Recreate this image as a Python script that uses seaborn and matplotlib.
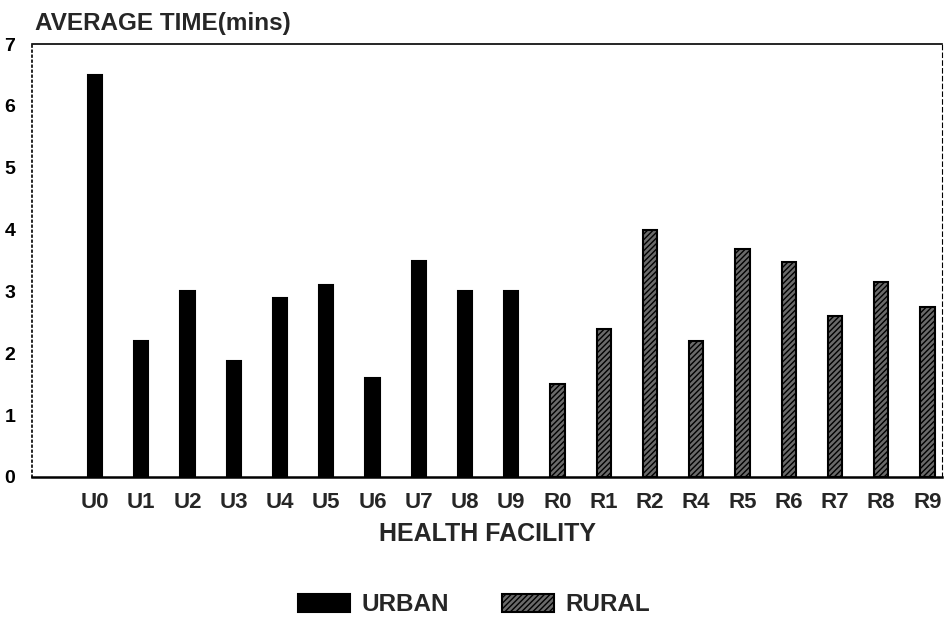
# Average consultation time per health facility, urban vs rural
import pandas as pd
import matplotlib
matplotlib.use('Agg')
import matplotlib.pyplot as plt
import seaborn as sns

# data
urban_facilities = ['U0', 'U1', 'U2', 'U3', 'U4', 'U5', 'U6', 'U7', 'U8', 'U9']
urban_times = [6.5, 2.2, 3.0, 1.87, 2.9, 3.1, 1.6, 3.5, 3.0, 3.0]
rural_facilities = ['R0', 'R1', 'R2', 'R4', 'R5', 'R6', 'R7', 'R8', 'R9']
rural_times = [1.5, 2.4, 4.0, 2.2, 3.68, 3.47, 2.6, 3.16, 2.75]
y_ticks = [0, 1, 2, 3, 4, 5, 6, 7]

df = pd.DataFrame({
    'facility': urban_facilities + rural_facilities,
    'time': urban_times + rural_times,
    'area': ['URBAN'] * len(urban_facilities) + ['RURAL'] * len(rural_facilities),
})

sns.set_style('white')
plt.rcParams['font.family'] = ['Liberation Sans', 'DejaVu Sans']
plt.rcParams['font.weight'] = 'bold'
plt.rcParams['hatch.linewidth'] = 1.0

fig = plt.figure(figsize=(9.46, 6.3), dpi=100)
ax = fig.add_axes([0.034, 0.243, 0.962, 0.687])

sns.barplot(data=df, x='facility', y='time', hue='area',
            palette={'URBAN': 'black', 'RURAL': '#6a6a6a'},
            dodge=False, width=0.31, edgecolor='black', linewidth=1.5,
            legend=False, ax=ax)

# rural bars get the dense diagonal hatch
for bar in ax.containers[1]:
    bar.set_hatch('//////')

ax.set_ylim(0, 7)
ax.set_xlim(-1.36, 18.32)
ax.set_yticks(y_ticks)
ax.set_yticklabels([str(t) for t in y_ticks], fontsize=14)
ax.tick_params(axis='y', direction='in', length=5, width=1, pad=12, colors='black')
ax.tick_params(axis='x', length=0, pad=11, labelsize=16)
ax.set_xlabel('HEALTH FACILITY', fontsize=18, fontweight='bold', labelpad=6)
ax.set_ylabel('')

# old-plotter look for the frame
ax.spines['bottom'].set_linewidth(1.8)
ax.spines['left'].set_linestyle((0, (1, 2)))
ax.spines['left'].set_linewidth(1.2)
ax.spines['top'].set_linewidth(1.2)
ax.spines['right'].set_linestyle((0, (4, 3)))
ax.spines['right'].set_linewidth(0.8)
for s in ax.spines.values():
    s.set_color('black')

fig.text(0.037, 0.963, 'AVERAGE TIME(mins)', fontsize=17.5, fontweight='bold',
         ha='left', va='center')

handles = [ax.containers[0][0], ax.containers[1][0]]
fig.legend(handles, ['URBAN', 'RURAL'], loc='center', bbox_to_anchor=(0.501, 0.04),
           ncol=2, frameon=False, fontsize=17.5, handlelength=2.15, handleheight=0.8,
           columnspacing=2.2, handletextpad=0.45)

fig.savefig('out.png', dpi=100)
